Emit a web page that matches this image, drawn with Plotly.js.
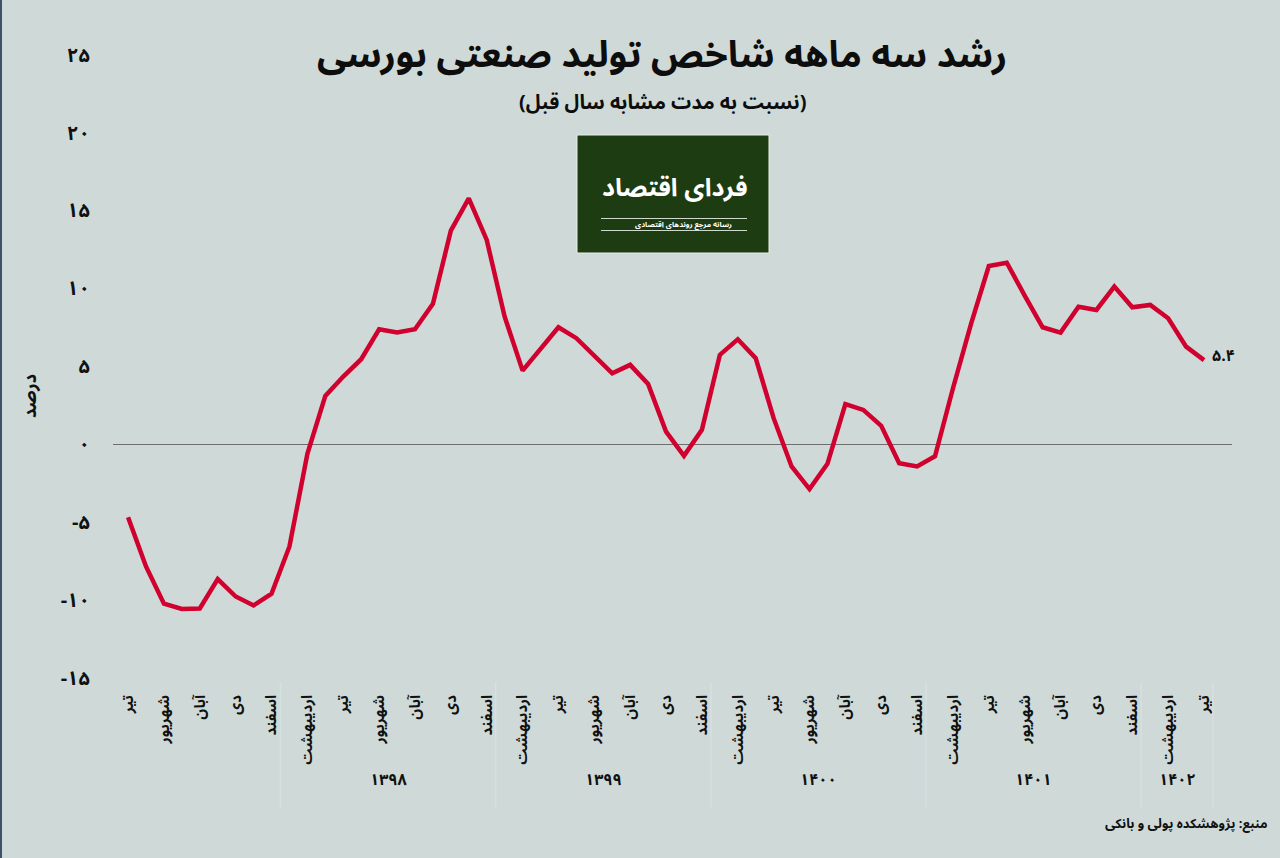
<!DOCTYPE html>
<html>
<head>
<meta charset="utf-8">
<script src="https://cdn.plot.ly/plotly-3.0.1.min.js"></script>
<style>
  html, body { margin: 0; padding: 0; background: #cfdad8; }
  #chart { width: 1280px; height: 858px; }
</style>
</head>
<body>
<div id="chart"></div>
<script>
// ---- Data ----
const monthNames = [
  'تیر','مرداد','شهریور','مهر','آبان','آذر','دی','بهمن','اسفند',
  'فروردین','اردیبهشت','خرداد','تیر','مرداد','شهریور','مهر','آبان','آذر','دی','بهمن','اسفند',
  'فروردین','اردیبهشت','خرداد','تیر','مرداد','شهریور','مهر','آبان','آذر','دی','بهمن','اسفند',
  'فروردین','اردیبهشت','خرداد','تیر','مرداد','شهریور','مهر','آبان','آذر','دی','بهمن','اسفند',
  'فروردین','اردیبهشت','خرداد','تیر','مرداد','شهریور','مهر','آبان','آذر','دی','بهمن','اسفند',
  'فروردین','اردیبهشت','خرداد','تیر'
];
const growth = [
  -4.67, -7.83, -10.22, -10.56, -10.53, -8.64, -9.76, -10.33, -9.58,
  -6.55, -0.61, 3.11, 4.35, 5.46, 7.38, 7.17, 7.38, 9.01, 13.71, 15.78, 13.11,
  8.19, 4.73, 6.12, 7.51, 6.81, 5.69, 4.56, 5.10, 3.88, 0.82, -0.74, 0.93,
  5.74, 6.74, 5.53, 1.68, -1.42, -2.87, -1.25, 2.58, 2.21, 1.19, -1.21, -1.42,
  -0.76, 3.6, 7.7, 11.44, 11.65, 9.54, 7.51, 7.17, 8.83, 8.62, 10.12, 8.79,
  8.94, 8.09, 6.27, 5.4
];
const yearLabels = ['۱۳۹۸','۱۳۹۹','۱۴۰۰','۱۴۰۱','۱۴۰۲'];
const yearFirstMonth = [9, 21, 33, 45, 57];
const yearLastMonth = [20, 32, 44, 56, 60];
const yTickVals = [25, 20, 15, 10, 5, 0, -5, -10, -15];
const yTickText = ['۲۵','۲۰','۱۵','۱۰','۵','۰','-۵','-۱۰','-۱۵'];
const lastLabel = '۵.۴';
const titleText = 'رشد سه ماهه شاخص تولید صنعتی بورسی';
const subtitleText = '(نسبت به مدت مشابه سال قبل)';

// ---- Build ----
const idx = growth.map((_, i) => i);
const tickVals = idx.filter(i => i % 2 === 0);
const tickText = tickVals.map(i => monthNames[i]);

const FONT = 'Noto Sans Arabic, Noto Naskh Arabic, DejaVu Sans, sans-serif';
const BG = '#cfdad8';
const LINE = '#d0002f';

const trace = {
  x: idx, y: growth, type: 'scatter', mode: 'lines',
  line: { color: LINE, width: 4.5 },
  hoverinfo: 'skip'
};

function px(x) { return (x - 113) / 1119; }
function py(y) { return (686 - y) / 647; }

const annotations = [];
yearLabels.forEach((t, k) => {
  annotations.push({
    xref: 'x', yref: 'paper',
    x: (yearFirstMonth[k] - 0.5 + yearLastMonth[k] + 0.5) / 2,
    y: py(780), yanchor: 'middle', text: '<b>' + t + '</b>', showarrow: false,
    font: { family: FONT, size: 16, color: '#111' }
  });
});
annotations.push({
  xref: 'x', yref: 'y', x: idx[idx.length - 1], y: growth[growth.length - 1],
  text: '<b>' + lastLabel + '</b>', showarrow: false, xanchor: 'left', xshift: 6, yshift: 4,
  font: { family: FONT, size: 16, color: '#111' }
});
annotations.push({
  xref: 'paper', yref: 'paper', x: px(30), y: py(396), yanchor: 'middle', xanchor: 'center',
  text: '<b>درصد</b>', showarrow: false, textangle: -90,
  font: { family: FONT, size: 18, color: '#111' }
});
annotations.push({
  xref: 'paper', yref: 'paper', x: px(662), y: py(55), yanchor: 'middle',
  text: '<b>' + titleText + '</b>', showarrow: false,
  font: { family: FONT, size: 37, color: '#0d0d0d' }
});
annotations.push({
  xref: 'paper', yref: 'paper', x: px(662), y: py(103), yanchor: 'middle',
  text: '<b>' + subtitleText + '</b>', showarrow: false,
  font: { family: FONT, size: 20, color: '#0d0d0d' }
});
annotations.push({
  xref: 'paper', yref: 'paper', x: px(1270), xanchor: 'right', y: py(824), yanchor: 'middle',
  text: '<b>منبع: پژوهشکده پولی و بانکی</b>', showarrow: false,
  font: { family: FONT, size: 13, color: '#111' }
});
annotations.push({
  xref: 'paper', yref: 'paper', x: px(675), y: py(188), yanchor: 'middle',
  text: '<b>فردای اقتصاد</b>', showarrow: false,
  font: { family: FONT, size: 25, color: '#ffffff' }
});
annotations.push({
  xref: 'paper', yref: 'paper', x: px(683), y: py(225), yanchor: 'middle',
  text: '<b>رسانه مرجع روندهای اقتصادی</b>', showarrow: false,
  font: { family: FONT, size: 7.5, color: '#ffffff' }
});

const shapes = [];
[8.5, 20.5, 32.5, 44.5, 56.5, 60.5].forEach(v => {
  shapes.push({ type: 'line', xref: 'x', yref: 'paper', x0: v, x1: v, y0: py(682), y1: py(808),
    line: { color: '#d6e0df', width: 1.5 } });
});
shapes.push({ type: 'rect', xref: 'paper', yref: 'paper',
  x0: px(577), x1: px(769), y0: py(253), y1: py(135),
  fillcolor: '#1d3c12', line: { color: '#e8eee8', width: 1 } });
shapes.push({ type: 'line', xref: 'paper', yref: 'paper', x0: px(601), x1: px(747), y0: py(218.5), y1: py(218.5),
  line: { color: '#cfd8cc', width: 1 } });
shapes.push({ type: 'line', xref: 'paper', yref: 'paper', x0: px(601), x1: px(747), y0: py(230.5), y1: py(230.5),
  line: { color: '#cfd8cc', width: 1 } });
shapes.push({ type: 'line', xref: 'paper', yref: 'paper', x0: px(1), x1: px(1), y0: py(0), y1: py(858),
  line: { color: '#3f5168', width: 2 } });

const layout = {
  width: 1280, height: 858,
  paper_bgcolor: BG, plot_bgcolor: BG,
  margin: { l: 113, r: 48, t: 39, b: 172 },
  showlegend: false,
  xaxis: {
    range: [-0.84, 61.56], showgrid: false, zeroline: false, showline: false,
    tickmode: 'array', tickvals: tickVals, ticktext: tickText, tickangle: -90,
    ticks: 'outside', ticklen: 2, tickcolor: 'rgba(0,0,0,0)',
    tickfont: { family: FONT, size: 15, color: '#111', weight: 'bold' }
  },
  yaxis: {
    range: [-15.5, 26], showgrid: false, showline: false,
    zeroline: true, zerolinecolor: '#6e6e6e', zerolinewidth: 1,
    tickmode: 'array', tickvals: yTickVals, ticktext: yTickText,
    ticks: 'outside', ticklen: 18, tickcolor: 'rgba(0,0,0,0)',
    tickfont: { family: FONT, size: 20, color: '#111', weight: 'bold' }
  },
  annotations: annotations,
  shapes: shapes
};

Plotly.newPlot('chart', [trace], layout, { displayModeBar: false, staticPlot: true });
</script>
</body>
</html>
